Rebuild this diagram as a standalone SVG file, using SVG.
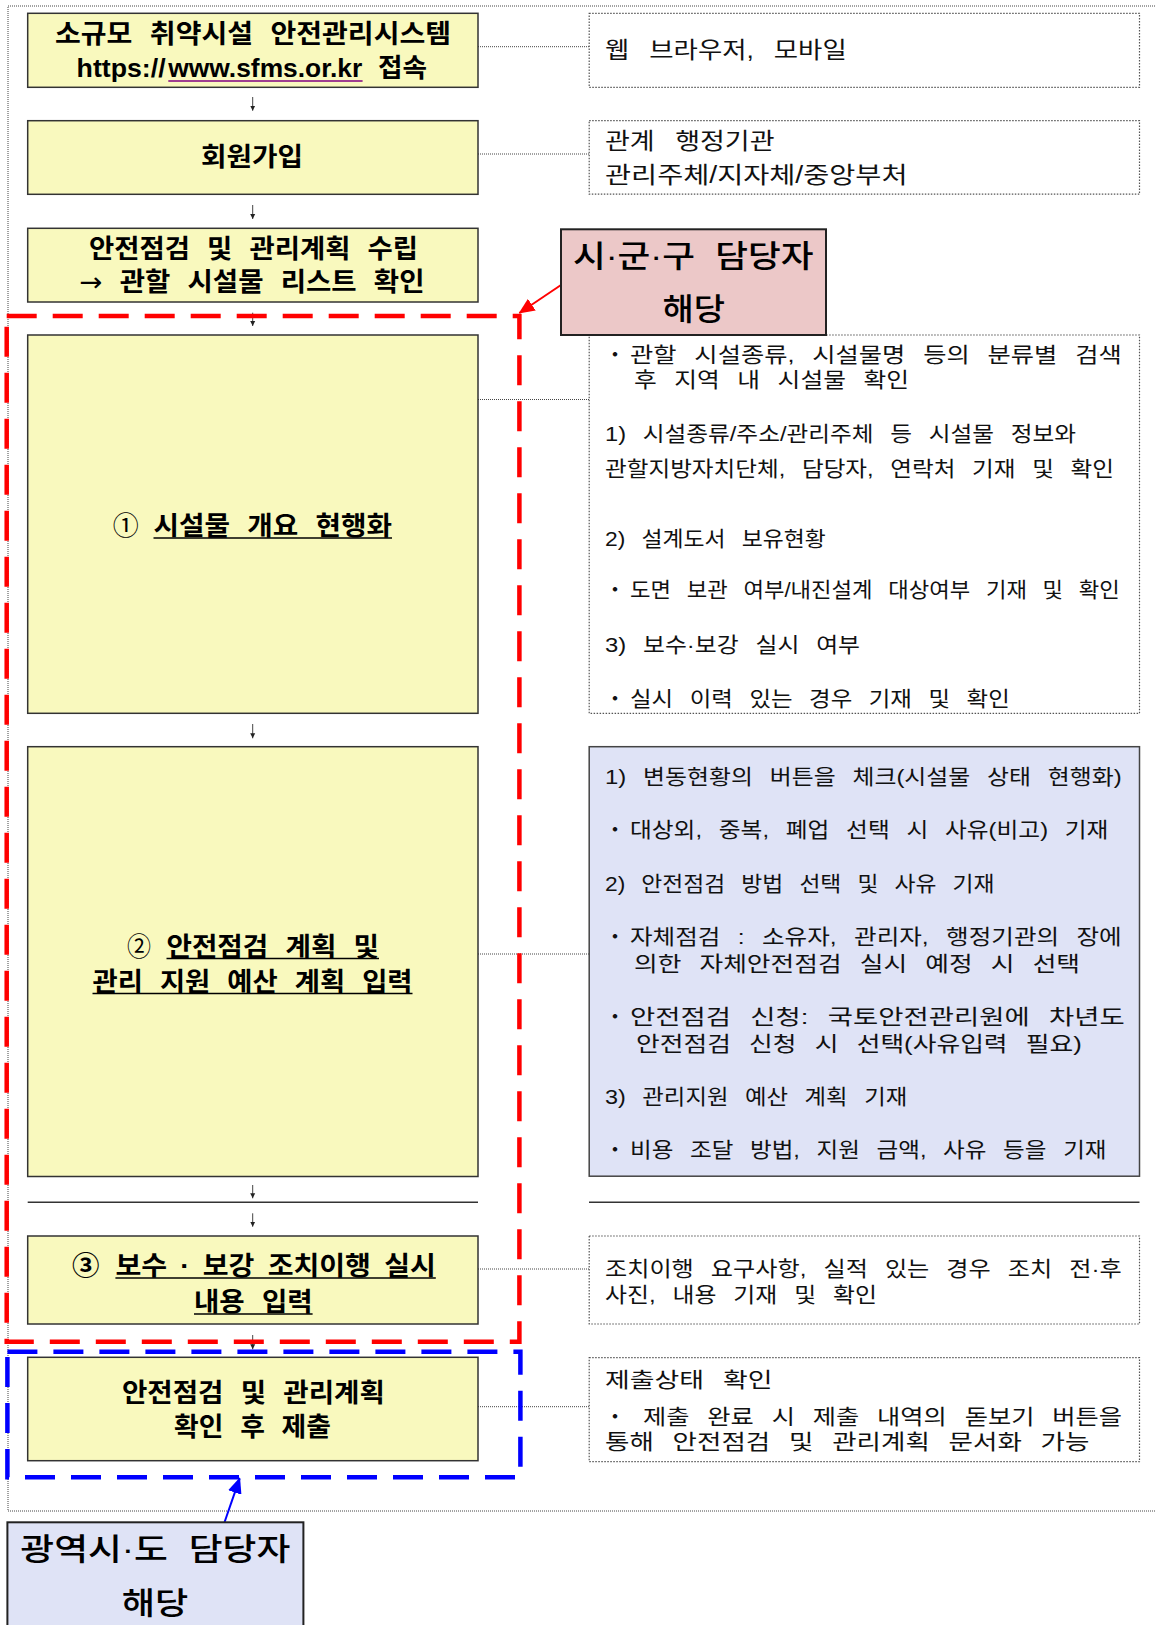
<svg xmlns="http://www.w3.org/2000/svg" width="1155" height="1625" viewBox="0 0 1155 1625">
<style>
.bg{fill:#ffffff}
.box{fill:#f9f9be;stroke:#333;stroke-width:1.5}
.info{fill:#ffffff;stroke:#555;stroke-width:1.2;stroke-dasharray:1.5 1.5}
.info2{fill:#dfe3f6;stroke:#444;stroke-width:1.5}
.hd{font-family:"Liberation Sans","Noto Sans CJK KR",sans-serif;font-weight:bold;font-size:26px;fill:#000;word-spacing:9px}
.num{font-family:"Liberation Sans","Noto Sans CJK KR",sans-serif;font-weight:normal;font-size:26px;fill:#000}
.tx{font-family:"Liberation Sans","Noto Sans CJK KR",sans-serif;font-size:21px;fill:#111;word-spacing:9px}
.tx2{font-family:"Liberation Sans","Noto Sans CJK KR",sans-serif;font-size:23px;fill:#111;word-spacing:11px}
.big{font-family:"Liberation Sans","Noto Sans CJK KR",sans-serif;font-weight:500;font-size:31px;fill:#000;word-spacing:9px}
.ul{stroke:#000;stroke-width:1.5}
.conn{stroke:#444;stroke-width:1;stroke-dasharray:1 1;fill:none}
.arr{stroke:#444;stroke-width:1;fill:none}
.sep{stroke:#333;stroke-width:1.5}
</style>
<defs>
<marker id="ah" markerWidth="6" markerHeight="6" refX="5" refY="3" orient="auto" markerUnits="userSpaceOnUse">
<path d="M0,0.5 L5,3 L0,5.5 Z" fill="#222"/>
</marker>
<marker id="ahRed" markerWidth="16" markerHeight="14" refX="15" refY="7" orient="auto" markerUnits="userSpaceOnUse">
<path d="M0,0 L16,7 L0,14 Z" fill="#ff0000"/>
</marker>
<marker id="ahBlue" markerWidth="16" markerHeight="14" refX="15" refY="7" orient="auto" markerUnits="userSpaceOnUse">
<path d="M0,0 L16,7 L0,14 Z" fill="#0000ff"/>
</marker>
</defs>
<rect class="bg" x="0" y="0" width="1155" height="1625"/>

<!-- outer dotted frame -->
<path class="conn" d="M1155,6 H8 V1511 H1155" stroke="#555"/>

<g id="connectors">
<line class="conn" x1="478" y1="46.7" x2="589" y2="46.7"/>
<line class="conn" x1="478" y1="154" x2="589" y2="154"/>
<line class="conn" x1="478" y1="399.5" x2="589" y2="399.5"/>
<line class="conn" x1="478" y1="954" x2="589" y2="954"/>
<line class="conn" x1="478" y1="1269" x2="589" y2="1269"/>
<line class="conn" x1="478" y1="1406.7" x2="589" y2="1406.7"/>
<line class="arr" x1="252.7" y1="97" x2="252.7" y2="110.7" marker-end="url(#ah)"/>
<line class="arr" x1="252.7" y1="205" x2="252.7" y2="219" marker-end="url(#ah)"/>
<line class="arr" x1="252.7" y1="312.7" x2="252.7" y2="326" marker-end="url(#ah)"/>
<line class="arr" x1="252.7" y1="724" x2="252.7" y2="738.3" marker-end="url(#ah)"/>
<line class="arr" x1="252.7" y1="1185" x2="252.7" y2="1198.3" marker-end="url(#ah)"/>
<line class="arr" x1="252.7" y1="1213.3" x2="252.7" y2="1226.7" marker-end="url(#ah)"/>
<line class="arr" x1="252.7" y1="1335" x2="252.7" y2="1349.3" marker-end="url(#ah)"/>
<line class="sep" x1="27.7" y1="1202.3" x2="478" y2="1202.3"/>
<line class="sep" x1="589" y1="1202.3" x2="1139.5" y2="1202.3"/>
</g>

<g id="n1">
<rect class="box" x="27.7" y="13.3" width="450.3" height="74"/>
<text class="hd" x="55" y="43" textLength="396" lengthAdjust="spacingAndGlyphs">소규모 취약시설 안전관리시스템</text>
<text class="hd" x="76.6" y="77" font-size="30" textLength="89" lengthAdjust="spacingAndGlyphs">https://</text>
<text class="hd" x="168.3" y="77" font-size="30" fill="#800080" textLength="194" lengthAdjust="spacingAndGlyphs">www.sfms.or.kr</text>
<line x1="168.3" y1="81" x2="362.6" y2="81" stroke="#800080" stroke-width="1.5"/>
<text class="hd" x="378" y="77" textLength="49" lengthAdjust="spacingAndGlyphs">접속</text>
</g>
<g id="n1r">
<rect class="info" x="589.2" y="13.3" width="550.3" height="74"/>
<text class="tx2" x="605" y="58" textLength="241.7" lengthAdjust="spacingAndGlyphs">웹 브라우저, 모바일</text>
</g>

<g id="n2">
<rect class="box" x="27.7" y="120.7" width="450.3" height="73.6"/>
<text class="hd" x="201" y="166" textLength="102" lengthAdjust="spacingAndGlyphs">회원가입</text>
</g>
<g id="n2r">
<rect class="info" x="589.2" y="120.7" width="550.3" height="73.5"/>
<text class="tx2" x="605" y="148.5" textLength="169.6" lengthAdjust="spacingAndGlyphs">관계 행정기관</text>
<text class="tx2" x="605" y="183" textLength="302.5" lengthAdjust="spacingAndGlyphs">관리주체/지자체/중앙부처</text>
</g>

<g id="n3">
<rect class="box" x="27.7" y="228.3" width="450.3" height="73.7"/>
<text class="hd" x="89" y="258" textLength="329" lengthAdjust="spacingAndGlyphs">안전점검 및 관리계획 수립</text>
<text class="hd" x="79.5" y="291" textLength="345" lengthAdjust="spacingAndGlyphs"><tspan font-weight="normal" font-family="'DejaVu Sans',sans-serif">→</tspan> 관할 시설물 리스트 확인</text>
</g>

<g id="n4">
<rect class="box" x="27.7" y="335" width="450.3" height="378.3"/>
<text class="num" x="112.8" y="535" textLength="26" lengthAdjust="spacingAndGlyphs">①</text>
<text class="hd" x="153.5" y="535" textLength="238.5" lengthAdjust="spacingAndGlyphs">시설물 개요 현행화</text>
<line class="ul" x1="153.5" y1="538" x2="392" y2="538"/>
</g>
<g id="n4r">
<rect class="info" x="589.2" y="335" width="550.3" height="378.3"/>
<text class="tx" x="615" y="362" text-anchor="middle">・</text>
<text class="tx" x="630" y="362" textLength="491.7" lengthAdjust="spacingAndGlyphs">관할 시설종류, 시설물명 등의 분류별 검색</text>
<text class="tx" x="634" y="387" textLength="275" lengthAdjust="spacingAndGlyphs">후 지역 내 시설물 확인</text>
<text class="tx" x="605" y="440.5" textLength="471" lengthAdjust="spacingAndGlyphs">1) 시설종류/주소/관리주체 등 시설물 정보와</text>
<text class="tx" x="605" y="475.5" textLength="509" lengthAdjust="spacingAndGlyphs">관할지방자치단체, 담당자, 연락처 기재 및 확인</text>
<text class="tx" x="605" y="545.5" textLength="220.8" lengthAdjust="spacingAndGlyphs">2) 설계도서 보유현황</text>
<text class="tx" x="615" y="597" text-anchor="middle">・</text>
<text class="tx" x="630" y="597" textLength="489.8" lengthAdjust="spacingAndGlyphs">도면 보관 여부/내진설계 대상여부 기재 및 확인</text>
<text class="tx" x="605" y="652" textLength="255" lengthAdjust="spacingAndGlyphs">3) 보수·보강 실시 여부</text>
<text class="tx" x="615" y="705.5" text-anchor="middle">・</text>
<text class="tx" x="630" y="705.5" textLength="379.7" lengthAdjust="spacingAndGlyphs">실시 이력 있는 경우 기재 및 확인</text>
</g>

<g id="n5">
<rect class="box" x="27.7" y="746.7" width="450.3" height="429.8"/>
<text class="num" x="127" y="956" textLength="24" lengthAdjust="spacingAndGlyphs">②</text>
<text class="hd" x="166.5" y="956" textLength="212.5" lengthAdjust="spacingAndGlyphs">안전점검 계획 및</text>
<line class="ul" x1="166.5" y1="958.5" x2="379" y2="958.5"/>
<text class="hd" x="92.5" y="991" textLength="320" lengthAdjust="spacingAndGlyphs">관리 지원 예산 계획 입력</text>
<line class="ul" x1="92.5" y1="993.5" x2="412.5" y2="993.5"/>
</g>
<g id="n5r">
<rect class="info2" x="589.2" y="746.7" width="550.3" height="429.5"/>
<text class="tx" x="605" y="784" textLength="516.7" lengthAdjust="spacingAndGlyphs">1) 변동현황의 버튼을 체크(시설물 상태 현행화)</text>
<text class="tx" x="615" y="837" text-anchor="middle">・</text>
<text class="tx" x="630" y="837" textLength="478.4" lengthAdjust="spacingAndGlyphs">대상외, 중복, 폐업 선택 시 사유(비고) 기재</text>
<text class="tx" x="605" y="890.5" textLength="389.5" lengthAdjust="spacingAndGlyphs">2) 안전점검 방법 선택 및 사유 기재</text>
<text class="tx" x="615" y="944" text-anchor="middle">・</text>
<text class="tx" x="630" y="944" textLength="491.7" lengthAdjust="spacingAndGlyphs">자체점검 : 소유자, 관리자, 행정기관의 장에</text>
<text class="tx" x="634" y="970.5" textLength="446" lengthAdjust="spacingAndGlyphs">의한 자체안전점검 실시 예정 시 선택</text>
<text class="tx" x="615" y="1024" text-anchor="middle">・</text>
<text class="tx" x="630" y="1024" textLength="494.7" lengthAdjust="spacingAndGlyphs">안전점검 신청: 국토안전관리원에 차년도</text>
<text class="tx" x="636" y="1050.5" textLength="445.8" lengthAdjust="spacingAndGlyphs">안전점검 신청 시 선택(사유입력 필요)</text>
<text class="tx" x="605" y="1104" textLength="302.2" lengthAdjust="spacingAndGlyphs">3) 관리지원 예산 계획 기재</text>
<text class="tx" x="615" y="1157" text-anchor="middle">・</text>
<text class="tx" x="630" y="1157" textLength="476.5" lengthAdjust="spacingAndGlyphs">비용 조달 방법, 지원 금액, 사유 등을 기재</text>
</g>

<g id="n6">
<rect class="box" x="27.7" y="1236" width="450.3" height="88"/>
<text class="hd" x="72" y="1275" textLength="27.5" lengthAdjust="spacingAndGlyphs">③</text>
<text class="hd" x="115.4" y="1275" textLength="320.4" lengthAdjust="spacingAndGlyphs" style="word-spacing:5px">보수 · 보강 조치이행 실시</text>
<line class="ul" x1="115.4" y1="1278" x2="435.8" y2="1278"/>
<text class="hd" x="194" y="1311" textLength="118.6" lengthAdjust="spacingAndGlyphs">내용 입력</text>
<line class="ul" x1="194" y1="1314" x2="312.6" y2="1314"/>
</g>
<g id="n6r">
<rect class="info" x="589.2" y="1236" width="550.3" height="88"/>
<text class="tx" x="605" y="1276" textLength="516.7" lengthAdjust="spacingAndGlyphs">조치이행 요구사항, 실적 있는 경우 조치 전·후</text>
<text class="tx" x="605" y="1302" textLength="272" lengthAdjust="spacingAndGlyphs">사진, 내용 기재 및 확인</text>
</g>

<g id="n7">
<rect class="box" x="27.7" y="1357.3" width="450.3" height="103.4"/>
<text class="hd" x="122" y="1402" textLength="262.8" lengthAdjust="spacingAndGlyphs">안전점검 및 관리계획</text>
<text class="hd" x="174" y="1436" textLength="157" lengthAdjust="spacingAndGlyphs">확인 후 제출</text>
</g>
<g id="n7r">
<rect class="info" x="589.2" y="1357.7" width="550.3" height="104"/>
<text class="tx" x="605" y="1387" textLength="167.5" lengthAdjust="spacingAndGlyphs">제출상태 확인</text>
<text class="tx" x="615" y="1424" text-anchor="middle">・</text>
<text class="tx" x="643" y="1424" textLength="479" lengthAdjust="spacingAndGlyphs">제출 완료 시 제출 내역의 돋보기 버튼을</text>
<text class="tx" x="605" y="1449" textLength="484.4" lengthAdjust="spacingAndGlyphs">통해 안전점검 및 관리계획 문서화 가능</text>
</g>

<g id="groups">
<rect x="6.7" y="316" width="512.7" height="1025.7" fill="none" stroke="#ff0000" stroke-width="4.5" stroke-dasharray="30 16"/>
<rect x="7.4" y="1351.7" width="513" height="125.6" fill="none" stroke="#0000ff" stroke-width="4.5" stroke-dasharray="30 16"/>
<line x1="561" y1="285" x2="519.4" y2="313" stroke="#ff0000" stroke-width="2" marker-end="url(#ahRed)"/>
<line x1="224.6" y1="1522" x2="239.7" y2="1478.3" stroke="#0000ff" stroke-width="2" marker-end="url(#ahBlue)"/>
</g>

<g id="label-sigungu">
<rect x="561" y="229.3" width="265" height="105.7" fill="#ecc8c8" stroke="#222" stroke-width="2"/>
<text class="big" x="573" y="267" textLength="240.5" lengthAdjust="spacingAndGlyphs">시·군·구 담당자</text>
<text class="big" x="662.5" y="320" textLength="62.5" lengthAdjust="spacingAndGlyphs">해당</text>
</g>

<g id="label-gwangyeok">
<rect x="7.4" y="1522.3" width="296" height="110" fill="#dfe3f6" stroke="#222" stroke-width="2"/>
<text class="big" x="20.3" y="1560" textLength="270" lengthAdjust="spacingAndGlyphs">광역시·도 담당자</text>
<text class="big" x="121.7" y="1614" textLength="66.6" lengthAdjust="spacingAndGlyphs">해당</text>
</g>
</svg>
